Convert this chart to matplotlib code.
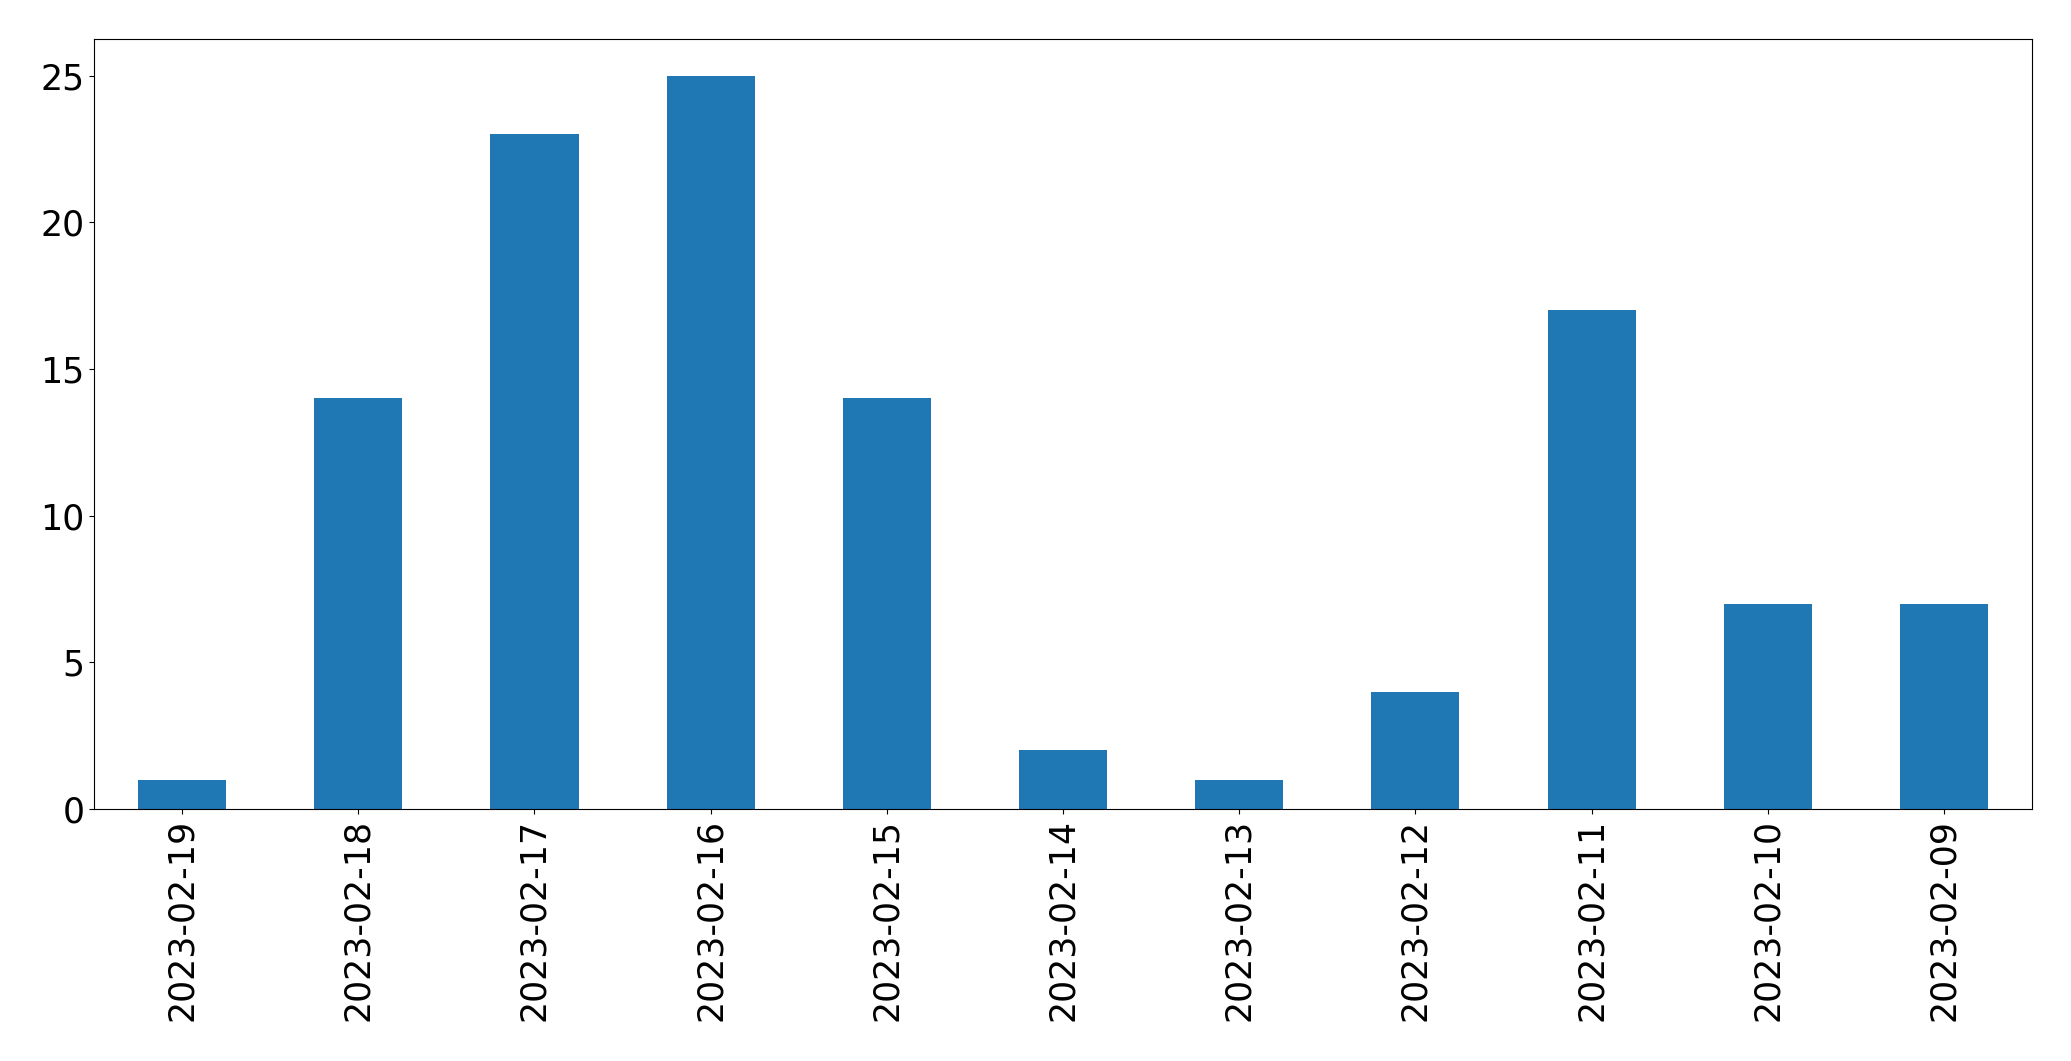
import pandas as pd
import matplotlib
matplotlib.use("Agg")
import matplotlib.pyplot as plt

dates = ["2023-02-19", "2023-02-18", "2023-02-17", "2023-02-16", "2023-02-15",
         "2023-02-14", "2023-02-13", "2023-02-12", "2023-02-11", "2023-02-10",
         "2023-02-09"]
counts = [1, 14, 23, 25, 14, 2, 1, 4, 17, 7, 7]

plt.rcParams["font.size"] = 25

fig = plt.figure(figsize=(20.71, 10.61), dpi=100)
ax = fig.add_axes([94 / 2071, 1 - 809 / 1061, (2032 - 94) / 2071, (809 - 39) / 1061])

s = pd.Series(counts, index=dates)
s.plot.bar(ax=ax, color="#1f77b4")

fig.savefig("out.png", dpi=100)
